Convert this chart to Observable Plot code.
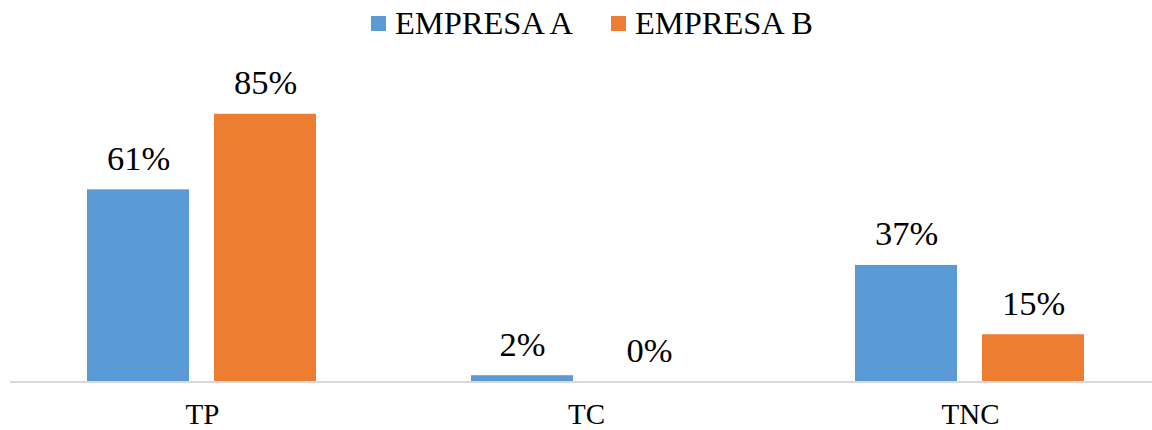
<!DOCTYPE html>
<html>
<head>
<meta charset="utf-8">
<script src="https://cdn.jsdelivr.net/npm/d3@7"></script>
<script src="https://cdn.jsdelivr.net/npm/@observablehq/plot@0.6"></script>
<style>
  body { margin: 0; background: #fff; font-family: "Times New Roman", "Liberation Serif", "DejaVu Serif", serif; }
  #legend { height: 40px; box-sizing: border-box; padding: 7.5px 0 0 371px; display: flex; align-items: flex-start; font-size: 32.5px; line-height: 31px; color: #000; }
  .item { display: flex; align-items: center; margin-right: 38px; }
  .swatch { width: 15px; height: 15px; margin-right: 9px; }
  #chart svg { display: block; }
  #chart svg text { font-family: "Times New Roman", "Liberation Serif", "DejaVu Serif", serif; }
</style>
</head>
<body>
<div id="legend"></div>
<div id="chart"></div>
<script>
// Grouped bars: share of each type per company
const categories = ["TP", "TC", "TNC"];
const companies = ["EMPRESA A", "EMPRESA B"];
const empresaA = [61, 2, 37];
const empresaB = [85, 0, 15];
const colors = ["#5B9BD5", "#ED7D31"];
const serif = "'Times New Roman', 'Liberation Serif', 'DejaVu Serif', serif";

const rows = categories.flatMap((c, i) => [
  {categoria: c, empresa: companies[0], valor: empresaA[i]},
  {categoria: c, empresa: companies[1], valor: empresaB[i]}
]);

// Legend above the chart
const legend = document.getElementById("legend");
companies.forEach((name, i) => {
  const item = document.createElement("div");
  item.className = "item";
  const sw = document.createElement("span");
  sw.className = "swatch";
  sw.style.background = colors[i];
  const label = document.createElement("span");
  label.textContent = name;
  item.append(sw, label);
  legend.append(item);
});

const chart = Plot.plot({
  width: 1152,
  height: 390,
  marginTop: 26.5,
  marginBottom: 48.5,
  marginLeft: 0,
  marginRight: 0,
  fx: {domain: categories, range: [9.5, 1161.5], padding: 0},
  x: {domain: companies, paddingInner: 0.195, paddingOuter: 0.598, axis: null},
  y: {domain: [0, 100], axis: null},
  color: {domain: companies, range: colors},
  style: {fontFamily: serif, color: "#000", background: "#fff"},
  marks: [
    Plot.barY(rows, {fx: "categoria", x: "empresa", y: "valor", fill: "empresa"}),
    Plot.ruleY([0], {stroke: "#d9d9d9", strokeWidth: 2}),
    Plot.text(rows, {
      fx: "categoria", x: "empresa", y: "valor",
      text: d => d.valor + "%",
      lineAnchor: "bottom", dy: -20, fontSize: 34.5, fontFamily: serif, fill: "#000"
    }),
    Plot.axisFx({anchor: "bottom", tickSize: 0, tickPadding: 21, fontSize: 29, fontFamily: serif, label: null, fill: "#000"})
  ]
});
document.getElementById("chart").append(chart);
</script>
</body>
</html>
